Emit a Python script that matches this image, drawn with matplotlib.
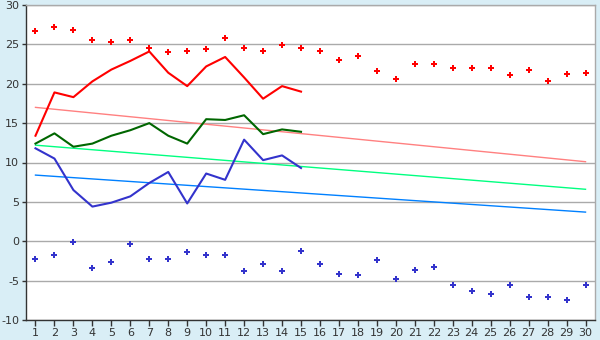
import numpy as np
import matplotlib.pyplot as plt

plt.rcParams['axes.unicode_minus'] = False

# dane
days = list(range(1, 31))
days15 = list(range(1, 16))

max_points = [26.7, 27.2, 26.8, 25.5, 25.3, 25.6, 24.5, 24.0, 24.2, 24.4, 25.8, 24.6, 24.2, 24.9, 24.6,
              24.2, 23.0, 23.5, 21.6, 20.6, 22.5, 22.5, 22.0, 22.0, 22.0, 21.1, 21.7, 20.3, 21.3, 21.4]
min_points = [-2.2, -1.7, -0.1, -3.4, -2.6, -0.3, -2.2, -2.3, -1.4, -1.7, -1.8, -3.8, -2.9, -3.8, -1.2,
              -2.9, -4.1, -4.3, -2.4, -4.8, -3.7, -3.3, -5.6, -6.3, -6.7, -5.5, -7.1, -7.1, -7.4, -5.6]

max_line = [13.4, 18.9, 18.3, 20.3, 21.8, 22.9, 24.1, 21.4, 19.7, 22.2, 23.4, 20.8, 18.1, 19.7, 19.0]
avg_line = [12.4, 13.7, 12.0, 12.4, 13.4, 14.1, 15.0, 13.4, 12.4, 15.5, 15.4, 16.0, 13.6, 14.2, 13.9]
min_line = [11.8, 10.5, 6.5, 4.4, 4.9, 5.7, 7.4, 8.8, 4.8, 8.6, 7.8, 12.9, 10.3, 10.9, 9.3]

trend_x = [1, 30]
trend_max = [17.0, 10.1]
trend_avg = [12.2, 6.6]
trend_min = [8.4, 3.7]

fig = plt.figure(figsize=(6, 3.4), dpi=100, facecolor='#d9eef6')
ax = fig.add_axes([26/600, 1-320/340, 569/600, 315/340])
ax.set_facecolor('white')

# linie trendu
ax.plot(trend_x, trend_max, color='#ff8080', lw=1)
ax.plot(trend_x, trend_avg, color='#00ff80', lw=1)
ax.plot(trend_x, trend_min, color='#0080ff', lw=1)

# serie
ax.plot(days15, max_line, color='#ff0000', lw=1.5)
ax.plot(days15, avg_line, color='#006600', lw=1.5)
ax.plot(days15, min_line, color='#3333cc', lw=1.5)

ax.plot(days, max_points, 'P', color='#ff0000', ms=5, mew=0, ls='none')
ax.plot(days, min_points, 'P', color='#3333cc', ms=5, mew=0, ls='none')

ax.set_xlim(0.5, 30.5)
ax.set_ylim(-10, 30)
ax.set_xticks(days)
ax.set_yticks(range(-10, 31, 5))
ax.grid(axis='y', color='#aaaaaa', lw=1)
ax.set_axisbelow(True)
for s in ax.spines.values():
    s.set_color('#aaaaaa')
    s.set_linewidth(1)
ax.spines['left'].set_color('#333333')
ax.spines['bottom'].set_color('#333333')
ax.tick_params(axis='both', labelsize=8, colors='#333333', length=4, width=1, pad=2)
ax.tick_params(axis='y', length=3)

fig.savefig('out.png', dpi=100, facecolor=fig.get_facecolor())
